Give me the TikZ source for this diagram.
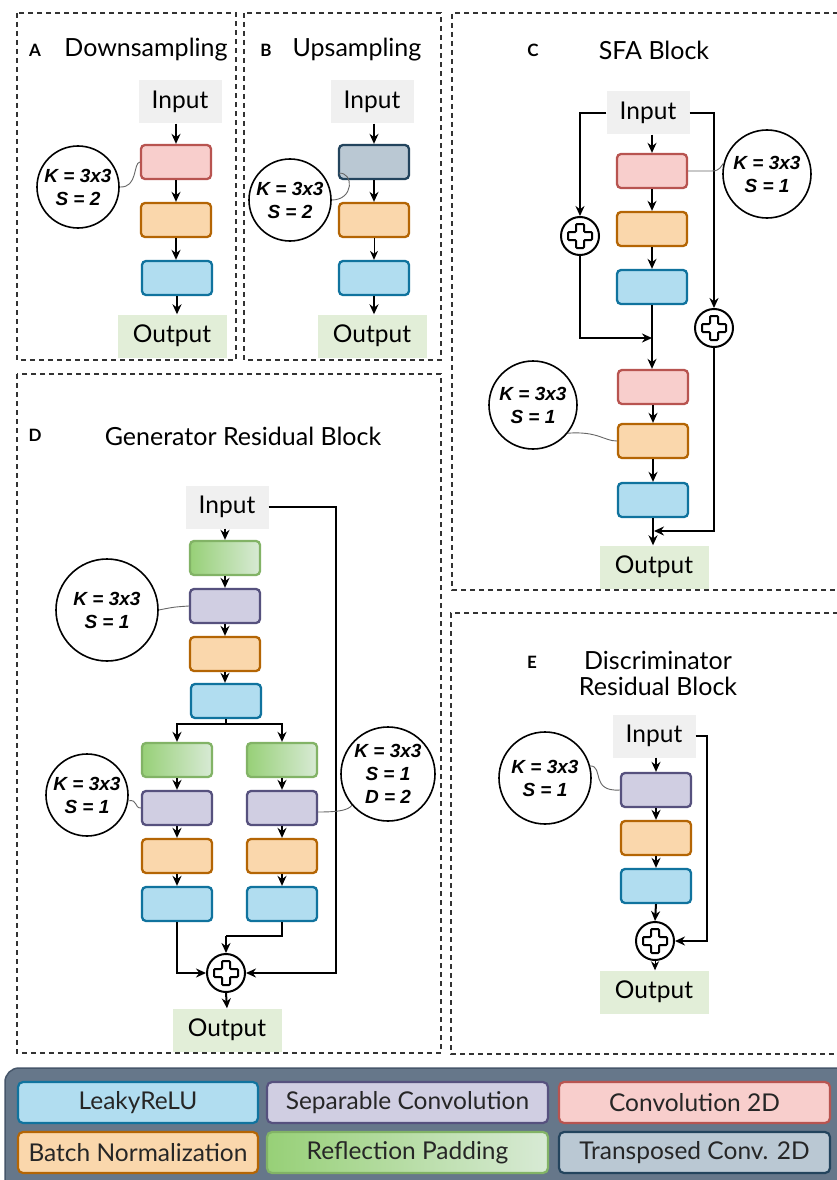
\documentclass[tikz,border=0pt]{standalone}
\usepackage{fontspec}
\setmainfont{Lato}
\newfontfamily\kfamily{Liberation Sans}
\usetikzlibrary{arrows.meta,calc}

\definecolor{cConvF}{HTML}{F8CECC}
\definecolor{cConvD}{HTML}{B85450}
\definecolor{cBnF}{HTML}{FAD7AC}
\definecolor{cBnD}{HTML}{B46504}
\definecolor{cLrF}{HTML}{B1DDF0}
\definecolor{cLrD}{HTML}{10739E}
\definecolor{cSepF}{HTML}{D0CEE2}
\definecolor{cSepD}{HTML}{56517E}
\definecolor{cRpA}{HTML}{97D077}
\definecolor{cRpB}{HTML}{D8EAD5}
\definecolor{cRpD}{HTML}{82B366}
\definecolor{cTcF}{HTML}{BAC8D3}
\definecolor{cTcD}{HTML}{23445D}
\definecolor{cInF}{HTML}{F0F0F0}
\definecolor{cOutF}{HTML}{E2EED8}
\definecolor{cLegF}{HTML}{66778A}
\definecolor{cLegD}{HTML}{46566A}

\newcommand\iofont{\fontsize{24.5}{28}\selectfont}
\newcommand\kfont{\kfamily\bfseries\itshape\fontsize{19}{23}\selectfont}

\begin{document}
\begin{tikzpicture}[x=1pt,y=-1pt,
  blk/.style={rounded corners=4pt, line width=2.3pt, minimum width=70pt, minimum height=34pt, inner sep=0},
  conv/.style={blk, fill=cConvF, draw=cConvD},
  bn/.style={blk, fill=cBnF, draw=cBnD},
  lrelu/.style={blk, fill=cLrF, draw=cLrD},
  sep/.style={blk, fill=cSepF, draw=cSepD},
  refl/.style={blk, draw=cRpD, left color=cRpA, right color=cRpB},
  tconv/.style={blk, fill=cTcF, draw=cTcD},
  inbox/.style={fill=cInF, font=\iofont, minimum width=83pt, minimum height=43pt, inner sep=0},
  outbox/.style={fill=cOutF, font=\iofont, minimum width=109pt, minimum height=43pt, inner sep=0},
  kcirc/.style={circle, draw, line width=1.6pt, inner sep=0, font=\kfont, align=center, fill=white},
  lnk/.style={draw=black!60, line width=0.9pt},
  flow/.style={line width=2pt, -{Stealth[length=10pt,width=9pt]}},
  thinflow/.style={line width=1pt, -{Stealth[length=9pt,width=8pt]}},
  line/.style={line width=2pt},
  addop/.style={circle, draw, line width=2pt, minimum size=38pt, inner sep=0, fill=white,
    path picture={\draw[line width=2pt, rounded corners=1pt]
      ([shift={(-4,-12)}]path picture bounding box.center) -- ++(8,0) -- ++(0,8) -- ++(8,0)
      -- ++(0,8) -- ++(-8,0) -- ++(0,8) -- ++(-8,0) -- ++(0,-8) -- ++(-8,0) -- ++(0,-8)
      -- ++(8,0) -- cycle;}},
  panel/.style={draw=black!80, line width=1.5pt, dash pattern=on 5pt off 4pt},
  ttl/.style={font=\fontsize{25}{29}\selectfont, align=center, inner sep=0},
  tag/.style={font=\fontsize{17}{19}\selectfont\bfseries, inner sep=0},
  leg/.style={rounded corners=5pt, line width=2.2pt, minimum height=41pt, inner sep=0,
    font=\fontsize{24.5}{28}\selectfont, text=black!85}
]
\useasboundingbox (0,0) rectangle (837,1180);
\fill[white] (0,0) rectangle (837,1180);

% dashed panel frames
\draw[panel] (17,13) rectangle (236,360);
\draw[panel] (244,13) rectangle (441,360);
\draw[panel] (838,13) -- (452,13) -- (452,590) -- (838,590);
\draw[panel] (17,374) rectangle (441,1053);
\draw[panel] (838,613) -- (451,613) -- (451,1054) -- (838,1054);

% ---------------- A: downsampling ----------------
\node[tag] (tagA) at (35,50) {A};
\node[ttl] (ttlA) at (146,50) {Downsampling};
\node[inbox] (inA) at (180,102) {Input};
\node[conv] (convA) at (176,162) {};
\node[bn] (bnA) at (176,220) {};
\node[lrelu] (lrA) at (177,278) {};
\node[outbox] (outA) at (172,336) {Output};
\node[kcirc, minimum size=82pt] (kA) at (78,187) {K = 3x3\\S = 2};
\draw[flow] (inA.south -| convA) -- (convA.north);
\draw[flow] (convA) -- (bnA);
\draw[flow] (bnA.south) -- (bnA.south |- lrA.north);
\draw[flow] (lrA.south) -- (lrA.south |- outA.north);
\draw[lnk] (kA.east) .. controls (138,188) and (133,163) .. (convA.west);

% ---------------- B: upsampling ----------------
\node[tag] (tagB) at (266,50) {B};
\node[ttl] (ttlB) at (357,50) {Upsampling};
\node[inbox] (inB) at (372,102) {Input};
\node[tconv] (tcB) at (374,162) {};
\node[bn] (bnB) at (374,220) {};
\node[lrelu] (lrB) at (374,278) {};
\node[outbox] (outB) at (372,336) {Output};
\node[kcirc, minimum size=82pt] (kB) at (290,200) {K = 3x3\\S = 2};
\coordinate (kBend) at ($(tcB.south west)+(1,-7)$);
\draw[flow] (inB.south -| tcB) -- (tcB.north);
\draw[flow] (tcB) -- (bnB);
\draw[thinflow] (bnB) -- (lrB);
\draw[flow] (lrB.south) -- (lrB.south |- outB.north);
\draw[lnk] (kB.east) .. controls (354,200) and (354,172) .. (kBend);

% ---------------- C: SFA block ----------------
\node[tag] (tagC) at (533,50) {C};
\node[ttl] (ttlC) at (654,50) {SFA Block};
\node[inbox] (inC) at (648,113) {Input};
\node[conv] (convC1) at (652,171) {};
\node[bn] (bnC1) at (652,229) {};
\node[lrelu] (lrC1) at (652,287) {};
\node[conv] (convC2) at (653,387) {};
\node[bn] (bnC2) at (653,441) {};
\node[lrelu] (lrC2) at (653,500) {};
\node[outbox] (outC) at (654,567) {Output};
\node[addop] (addC1) at (580,236) {};
\node[addop] (addC2) at (714,328) {};
\node[kcirc, minimum size=88pt] (kC1) at (767,174) {K = 3x3\\S = 1};
\node[kcirc, minimum size=88pt] (kC2) at (533,405) {K = 3x3\\S = 1};
\coordinate (joinC1) at (652,338);
\coordinate (joinC2) at (654,531);
\draw[flow] (inC.south -| convC1) -- (convC1.north);
\draw[flow] (convC1) -- (bnC1);
\draw[flow] (bnC1) -- (lrC1);
\draw[flow] (lrC1.south) -- (lrC1.south |- convC2.north);
\draw[flow] (convC2) -- (bnC2);
\draw[flow] (bnC2) -- (lrC2);
\draw[flow] (lrC2.south) -- (lrC2.south |- outC.north);
\draw[flow] (inC.west) -| (addC1.north);
\draw[flow] (addC1.south) |- (joinC1);
\draw[flow] (inC.east) -| (addC2.north);
\draw[flow] (addC2.south) |- (joinC2);
\draw[lnk] (convC1.east) -- (712,171) .. controls (720,171) and (721,166) .. (kC1.166);
\draw[lnk] (kC2.-39) .. controls (598,431) and (604,441) .. (bnC2.west);

% ---------------- D: generator residual block ----------------
\node[tag] (tagD) at (35,435) {D};
\node[ttl] (ttlD) at (243,436) {Generator Residual Block};
\node[inbox] (inD) at (227,507) {Input};
\node[refl] (rpD) at (225,558) {};
\node[sep] (sepD) at (225,606) {};
\node[bn] (bnD) at (225,654) {};
\node[lrelu] (lrD) at (226,701) {};
\node[refl] (rpL) at (177,760) {};
\node[sep] (sepL) at (177,808) {};
\node[bn] (bnL) at (177,856) {};
\node[lrelu] (lrL) at (177,904) {};
\node[refl] (rpR) at (282,760) {};
\node[sep] (sepR) at (282,808) {};
\node[bn] (bnR) at (282,856) {};
\node[lrelu] (lrR) at (282,904) {};
\node[addop] (addD) at (226,973) {};
\node[outbox] (outD) at (227,1030) {Output};
\node[kcirc, minimum size=102pt] (kD1) at (107,610) {K = 3x3\\S = 1};
\node[kcirc, minimum size=82pt] (kD2) at (87,795) {K = 3x3\\S = 1};
\node[kcirc, minimum size=94pt] (kD3) at (388,774) {K = 3x3\\S = 1\\D = 2};
\coordinate (splitD) at (226,724);
\coordinate (mergeD) at (226,936);
\draw[flow] (inD.south -| rpD) -- (rpD.north);
\draw[flow] (rpD) -- (sepD);
\draw[flow] (sepD) -- (bnD);
\draw[flow] (bnD.south) -- (bnD.south |- lrD.north);
\draw[line] (lrD.south) -- (splitD);
\draw[flow] (splitD) -| (rpL.north);
\draw[flow] (splitD) -| (rpR.north);
\foreach \c in {L,R}{
  \draw[flow] (rp\c) -- (sep\c);
  \draw[flow] (sep\c) -- (bn\c);
  \draw[flow] (bn\c) -- (lr\c);
}
\draw[flow] (lrL.south) |- (addD.west);
\draw[line] (lrR.south) |- (mergeD);
\draw[flow] (mergeD) -- (addD.north);
\draw[flow] (inD.east) -- (336,507) |- (addD.east);
\draw[flow] (addD.south) -- (outD.north);
\draw[lnk] (kD1.east) .. controls (174,607) .. (sepD.west);
\draw[lnk] (kD2.-8) .. controls (138,799) and (134,808) .. (sepL.west);
\draw[lnk] ($(sepR.east)+(0,4)$) .. controls (340,812) and (348,810) .. (kD3.221);

% ---------------- E: discriminator residual block ----------------
\node[tag] (tagE) at (532,662) {E};
\node[ttl] (ttlE) at (658,673) {Discriminator\\[-3pt]Residual Block};
\node[inbox] (inE) at (654,736) {Input};
\node[sep] (sepE) at (656,790) {};
\node[bn] (bnE) at (656,838) {};
\node[lrelu] (lrE) at (656,886) {};
\node[addop] (addE) at (655,941) {};
\node[outbox] (outE) at (654,992) {Output};
\node[kcirc, minimum size=92pt] (kE) at (545,778) {K = 3x3\\S = 1};
\draw[flow] (inE.south -| sepE) -- (sepE.north);
\draw[flow] (sepE) -- (bnE);
\draw[flow] (bnE) -- (lrE);
\draw[flow] (lrE.south) -- (addE.north);
\draw[thinflow] (addE.south) -- (addE.south |- outE.north);
\draw[flow] (inE.east) -- (707,736) |- (addE.east);
\draw[lnk] (kE.15) .. controls (604,766) and (590,792) .. (sepE.west);

% ---------------- legend ----------------
\draw[fill=cLegF, draw=cLegD, line width=1.5pt, rounded corners=14pt] (5,1068) rectangle (860,1200);
\node[leg, fill=cLrF, draw=cLrD, minimum width=240pt] (lgLr) at (138,1102.5) {LeakyReLU};
\node[leg, fill=cSepF, draw=cSepD, minimum width=281pt] (lgSep) at (407.5,1102.5) {Separable Convolution};
\node[leg, fill=cConvF, draw=cConvD, minimum width=271pt] (lgConv) at (694.5,1102.5) {Convolution 2D};
\node[leg, fill=cBnF, draw=cBnD, minimum width=240pt] (lgBn) at (138,1152.5) {Batch Normalization};
\node[leg, left color=cRpA, right color=cRpB, draw=cRpD, minimum width=281pt] (lgRp) at (407.5,1152.5) {Reflection Padding};
\node[leg, fill=cTcF, draw=cTcD, minimum width=271pt] (lgTc) at (694.5,1152.5) {Transposed Conv. 2D};
\end{tikzpicture}
\end{document}
